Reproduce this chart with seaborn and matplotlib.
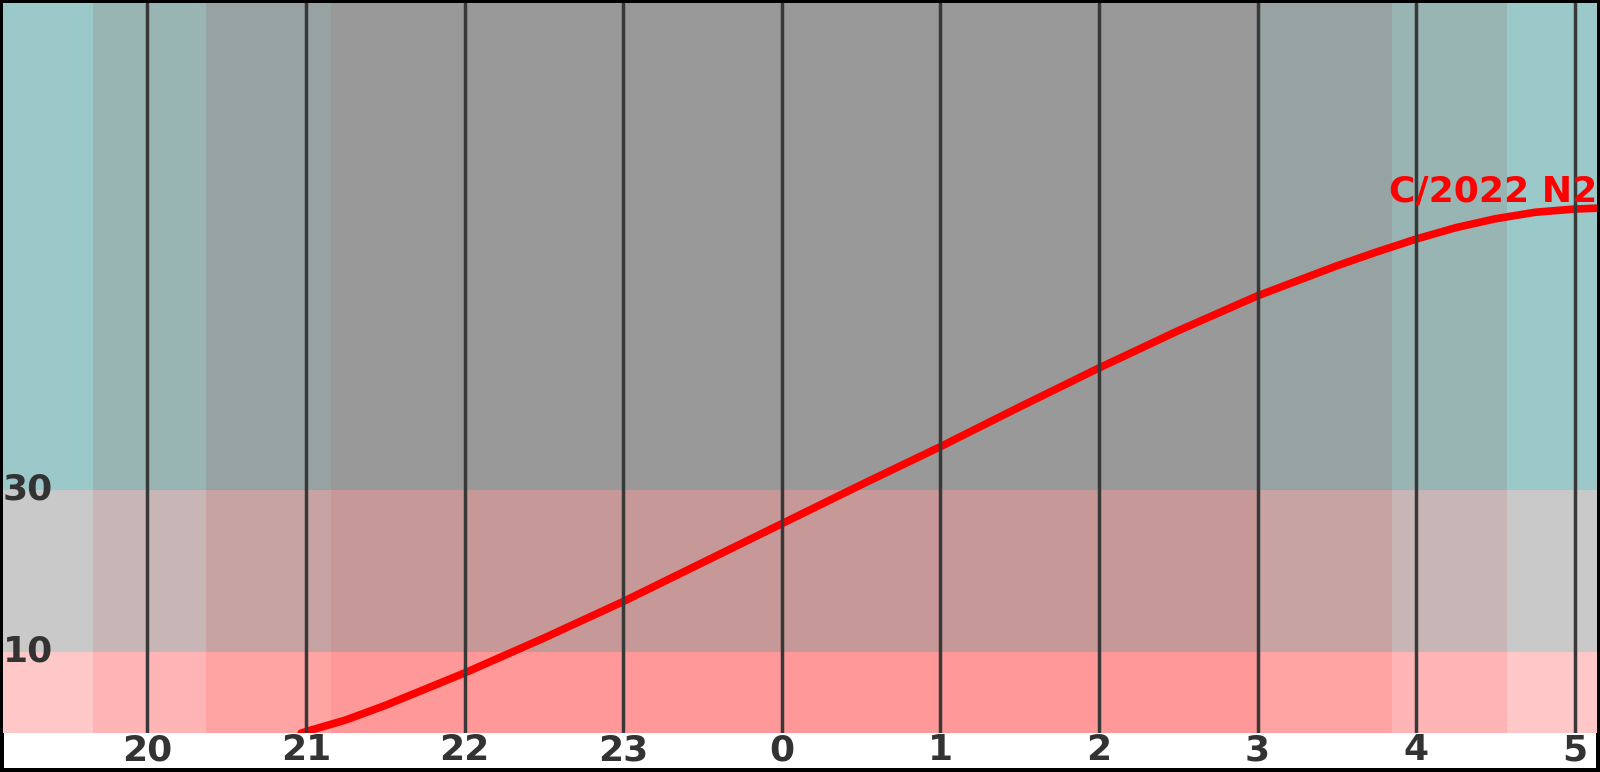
import numpy as np
import pandas as pd
import matplotlib
matplotlib.use("Agg")
import matplotlib.pyplot as plt
import seaborn as sns

sns.set_theme(style="white")
plt.rcParams['font.family'] = ['DejaVu Sans']

# comet altitude over the night (hours after midnight of the first evening)
hours = [20.97, 21.25, 21.5, 21.75, 22.0, 22.5, 23.0, 23.5, 24.0, 24.5, 25.0, 25.5,
         26.0, 26.5, 27.0, 27.5, 27.75, 28.0, 28.25, 28.5, 28.75, 29.0, 29.14]
altitude = [0.0, 1.6, 3.4, 5.4, 7.4, 11.7, 16.2, 21.0, 25.8, 30.6, 35.3, 40.2,
            45.0, 49.6, 53.9, 57.6, 59.3, 60.9, 62.3, 63.4, 64.2, 64.6, 64.7]
comet_name = "C/2022 N2"

# sun: day / civil / nautical / astronomical twilight / night boundaries
twilight_edges = [19.09, 19.66, 20.37, 21.16, 27.0, 27.85, 28.57, 29.14]
twilight_level = [0, 1, 2, 3, 2, 1, 0]

# altitude zones: 0-10 low, 10-30 mid, 30-90 high
zone_edges = [0, 10, 30, 90]
zone_colors = [
    ["#FFC8C8", "#FFB5B5", "#FFA3A3", "#FF9999"],
    ["#C9C9C9", "#C8B6B6", "#C7A4A3", "#C79898"],
    ["#9BC8C9", "#98B5B4", "#97A3A2", "#999999"],
]

tick_hours = [20, 21, 22, 23, 24, 25, 26, 27, 28, 29]
tick_labels = ["20", "21", "22", "23", "0", "1", "2", "3", "4", "5"]
alt_ticks = [10, 30]

W, H = 1600, 772
fig = plt.figure(figsize=(W / 100, H / 100), dpi=100)
ax = fig.add_axes([3 / W, 1 - 733 / H, 1594 / W, 730 / H])

# background cells
for i in range(len(twilight_level)):
    x0, x1 = twilight_edges[i], twilight_edges[i + 1]
    for j in range(len(zone_edges) - 1):
        ax.fill_between([x0, x1], zone_edges[j], zone_edges[j + 1],
                        color=zone_colors[j][twilight_level[i]], lw=0, zorder=1)

df = pd.DataFrame({"hour": hours, "alt": altitude})
sns.lineplot(data=df, x="hour", y="alt", color="red", lw=5.5, ax=ax, zorder=2)

for h in tick_hours:
    ax.axvline(h, color="#383838", lw=2.5, zorder=3)

ax.text(hours[-1], altitude[-1], comet_name, color="red", fontsize=26,
        fontweight="bold", ha="right", va="bottom", zorder=4)

ax.set_xlim(twilight_edges[0], twilight_edges[-1])
ax.set_ylim(zone_edges[0], zone_edges[-1])
ax.set_xticks(tick_hours)
ax.set_xticklabels(tick_labels)
ax.set_yticks(alt_ticks)
ax.set_yticklabels([str(v) for v in alt_ticks])
ax.set_xlabel("")
ax.set_ylabel("")
ax.tick_params(axis="x", length=0, pad=0.3, labelsize=26, labelcolor="#333333")
ax.tick_params(axis="y", length=0, pad=0, labelsize=26, labelcolor="#333333")
for lab in ax.get_xticklabels() + ax.get_yticklabels():
    lab.set_fontweight("bold")
for lab in ax.get_yticklabels():
    lab.set_ha("left")
    lab.set_va("center")
    lab.set_zorder(5)
ax.set_axisbelow(False)
for s in ax.spines.values():
    s.set_visible(False)

fig.patch.set_facecolor("white")
fig.patch.set_edgecolor("black")
fig.patch.set_linewidth(4.5)
fig.savefig("out.png", dpi=100)
